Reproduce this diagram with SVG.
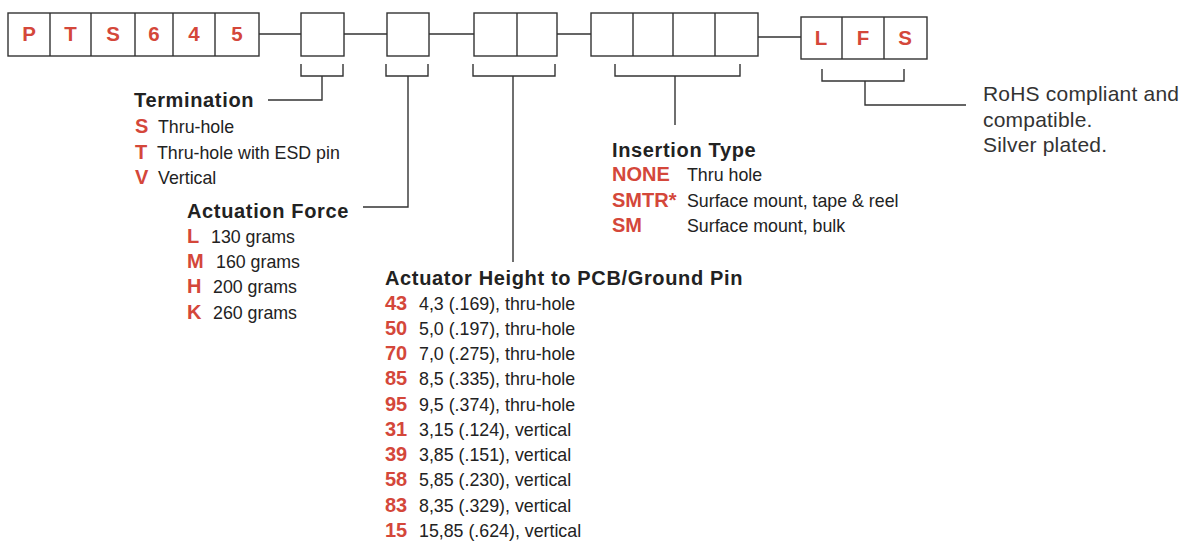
<svg xmlns="http://www.w3.org/2000/svg" width="1183" height="541" viewBox="0 0 1183 541">
<style>
.box{fill:#fff;stroke:#333;stroke-width:1.4}
.ln{fill:none;stroke:#333;stroke-width:1.4}
.code{font-family:"Liberation Sans",Arial,sans-serif;font-weight:bold;font-size:20px;fill:#d4473a}
.cell{font-family:"Liberation Sans",Arial,sans-serif;font-weight:bold;font-size:20.5px;fill:#d4473a;text-anchor:middle}
.title{font-family:"Liberation Sans",Arial,sans-serif;font-weight:bold;font-size:20px;fill:#222;letter-spacing:0.65px}
.body{font-family:"Liberation Sans",Arial,sans-serif;font-size:17.8px;fill:#222}
.note{font-family:"Liberation Sans",Arial,sans-serif;font-size:21px;fill:#333;letter-spacing:0.2px}
</style>
<rect width="1183" height="541" fill="#fff"/>
<g id="connectors">
<path class="ln" d="M259 34H301M344 34H387M429 34H474M557 34H591M758 37H801"/>
<path class="ln" d="M301 64V76H343V64M322 76V100H268"/>
<path class="ln" d="M386 64V76H428V64M408 76V207H363"/>
<path class="ln" d="M473 64V76H555V64M513 76V262"/>
<path class="ln" d="M615 64V76H740V64M675 76V125"/>
<path class="ln" d="M822 69V81H904V69M865 81V105H966"/>
</g>
<g id="prefix">
<rect class="box" x="8" y="13" width="251" height="43"/>
<path class="ln" d="M50 13V56M91 13V56M135 13V56M173 13V56M215 13V56"/>
<text class="cell" x="29" y="41">P</text>
<text class="cell" x="70.5" y="41">T</text>
<text class="cell" x="113" y="41">S</text>
<text class="cell" x="154" y="41">6</text>
<text class="cell" x="194" y="41">4</text>
<text class="cell" x="237" y="41">5</text>
</g>
<g id="box-termination"><rect class="box" x="301" y="13" width="43" height="43"/></g>
<g id="box-force"><rect class="box" x="387" y="13" width="42" height="43"/></g>
<g id="box-height"><rect class="box" x="474" y="13" width="83" height="43"/><path class="ln" d="M517 13V56"/></g>
<g id="box-insertion"><rect class="box" x="591" y="13" width="167" height="43"/><path class="ln" d="M633 13V56M673 13V56M715 13V56"/></g>
<g id="suffix">
<rect class="box" x="801" y="17" width="126" height="42"/>
<path class="ln" d="M842 17V59M884 17V59"/>
<text class="cell" x="821" y="45">L</text>
<text class="cell" x="863" y="45">F</text>
<text class="cell" x="905" y="45">S</text>
</g>
<g id="termination">
<text class="title" x="134" y="107">Termination</text>
<text class="code" x="135" y="133">S</text><text class="body" x="158" y="133">Thru-hole</text>
<text class="code" x="135" y="159">T</text><text class="body" x="157" y="159">Thru-hole with ESD pin</text>
<text class="code" x="135" y="184">V</text><text class="body" x="158" y="184">Vertical</text>
</g>
<g id="actuation-force">
<text class="title" x="187" y="218">Actuation Force</text>
<text class="code" x="187" y="243">L</text><text class="body" x="211" y="243">130 grams</text>
<text class="code" x="187" y="268">M</text><text class="body" x="216" y="268">160 grams</text>
<text class="code" x="187" y="293">H</text><text class="body" x="213" y="293">200 grams</text>
<text class="code" x="187" y="319">K</text><text class="body" x="213" y="319">260 grams</text>
</g>
<g id="actuator-height">
<text class="title" x="385" y="285">Actuator Height to PCB/Ground Pin</text>
<text class="code" x="385" y="310">43</text><text class="body" x="419" y="310">4,3 (.169), thru-hole</text>
<text class="code" x="385" y="335">50</text><text class="body" x="419" y="335">5,0 (.197), thru-hole</text>
<text class="code" x="385" y="360">70</text><text class="body" x="419" y="360">7,0 (.275), thru-hole</text>
<text class="code" x="385" y="385">85</text><text class="body" x="419" y="385">8,5 (.335), thru-hole</text>
<text class="code" x="385" y="411">95</text><text class="body" x="419" y="411">9,5 (.374), thru-hole</text>
<text class="code" x="385" y="436">31</text><text class="body" x="419" y="436">3,15 (.124), vertical</text>
<text class="code" x="385" y="461">39</text><text class="body" x="419" y="461">3,85 (.151), vertical</text>
<text class="code" x="385" y="486">58</text><text class="body" x="419" y="486">5,85 (.230), vertical</text>
<text class="code" x="385" y="512">83</text><text class="body" x="419" y="512">8,35 (.329), vertical</text>
<text class="code" x="385" y="537">15</text><text class="body" x="419" y="537">15,85 (.624), vertical</text>
</g>
<g id="insertion-type">
<text class="title" x="612" y="157">Insertion Type</text>
<text class="code" x="612" y="181">NONE</text><text class="body" x="687" y="181">Thru hole</text>
<text class="code" x="612" y="207">SMTR*</text><text class="body" x="687" y="207">Surface mount, tape &amp; reel</text>
<text class="code" x="612" y="232">SM</text><text class="body" x="687" y="232">Surface mount, bulk</text>
</g>
<g id="rohs">
<text class="note" x="983" y="101">RoHS compliant and</text>
<text class="note" x="983" y="127">compatible.</text>
<text class="note" x="983" y="152">Silver plated.</text>
</g>
</svg>
